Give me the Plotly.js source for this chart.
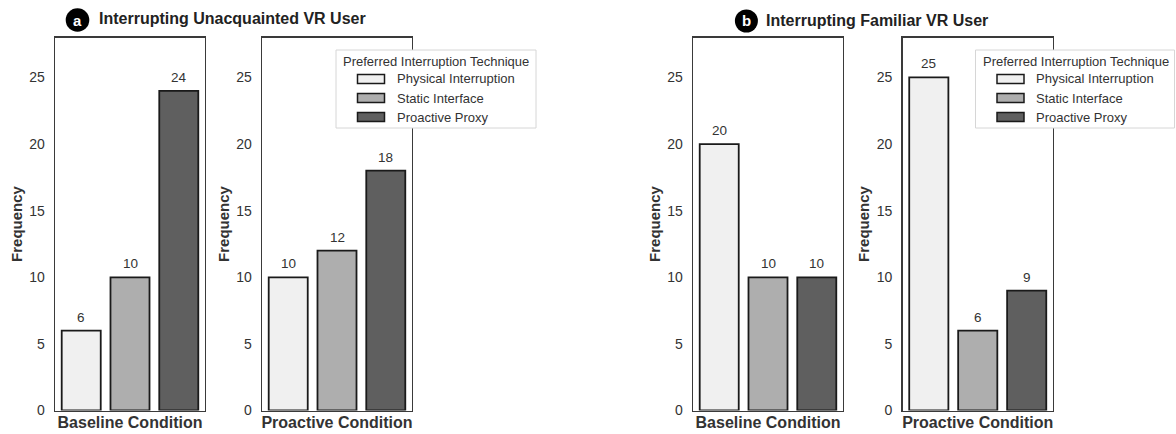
<!DOCTYPE html>
<html>
<head>
<meta charset="utf-8">
<script src="https://cdn.plot.ly/plotly-3.0.1.min.js"></script>
<style>html,body{margin:0;padding:0;background:#fff;}#chart{width:1176px;height:434px;}</style>
</head>
<body>
<div id="chart"></div>
<script>
// ---- data ----
const techniques = ['Physical Interruption', 'Static Interface', 'Proactive Proxy'];
const conditions = ['Baseline Condition', 'Proactive Condition'];
const unacquaintedBaseline = [6, 10, 24];
const unacquaintedProactive = [10, 12, 18];
const familiarBaseline = [20, 10, 10];
const familiarProactive = [25, 6, 9];
const panelLetters = ['a', 'b'];
const panelTitles = ['Interrupting Unacquainted VR User', 'Interrupting Familiar VR User'];
const legendTitle = 'Preferred Interruption Technique';
const yTicks = [0, 5, 10, 15, 20, 25];
const yLabel = 'Frequency';

// ---- styles ----
const FONT = 'Liberation Sans, Arial, Helvetica, sans-serif';
const fills = ['#f0f0f0', '#aeaeae', '#5f5f5f'];
const W = 1176, H = 434;
const px = v => v / W;
const py = v => 1 - v / H;
const BARGAP = 0.2, BARGROUPGAP = 0.2;

const subplots = [
  {vals: unacquaintedBaseline, cond: conditions[0], ax: ''},
  {vals: unacquaintedProactive, cond: conditions[1], ax: '2'},
  {vals: familiarBaseline, cond: conditions[0], ax: '3'},
  {vals: familiarProactive, cond: conditions[1], ax: '4'}
];
const xDomains = [[55, 205], [262, 412], [693, 843], [902.5, 1053]];
const yDomain = [1 - 410.5 / H, 1 - 37.5 / H];

const traces = [];
const valueLabels = [];
subplots.forEach((sp, si) => {
  techniques.forEach((t, ti) => {
    traces.push({
      type: 'bar',
      name: t,
      x: [sp.cond],
      y: [sp.vals[ti]],
      xaxis: 'x' + sp.ax,
      yaxis: 'y' + sp.ax,
      showlegend: false,
      marker: {color: fills[ti], line: {color: '#1a1a1a', width: 1.8}},
      hoverinfo: 'skip'
    });
    // value label above each dodged bar (offset follows the grouped-bar slot width)
    const slot = (1 - BARGAP) / techniques.length;
    valueLabels.push({
      xref: 'x' + sp.ax, yref: 'y' + sp.ax,
      x: (ti - (techniques.length - 1) / 2) * slot,
      y: sp.vals[ti],
      yanchor: 'bottom', yshift: 4,
      text: String(sp.vals[ti]), showarrow: false,
      font: {family: FONT, size: 13.5, color: '#333'}
    });
  });
});

const layout = {
  width: W, height: H,
  margin: {l: 0, r: 0, t: 0, b: 0},
  paper_bgcolor: '#fff', plot_bgcolor: '#fff',
  font: {family: FONT, color: '#333'},
  barmode: 'group', bargap: BARGAP, bargroupgap: BARGROUPGAP,
  showlegend: false,
  shapes: [], annotations: valueLabels.slice()
};

subplots.forEach((sp, si) => {
  const d = xDomains[si];
  layout['xaxis' + sp.ax] = {
    domain: [px(d[0]), px(d[1])],
    anchor: 'y' + sp.ax,
    type: 'category',
    range: [-0.41, 0.41],
    showline: true, mirror: true, linecolor: '#3a3a3a', linewidth: 1.3,
    ticks: '', showgrid: false, zeroline: false,
    tickfont: {family: FONT, size: 16, color: '#333', weight: 'bold'},
    ticklabelstandoff: -3,
    fixedrange: true
  };
  layout['yaxis' + sp.ax] = {
    domain: yDomain,
    anchor: 'x' + sp.ax,
    range: [0, 28],
    tickvals: yTicks,
    showline: true, mirror: true, linecolor: '#3a3a3a', linewidth: 1.3,
    ticks: '', showgrid: false, zeroline: false,
    tickfont: {family: FONT, size: 14, color: '#333'},
    ticklabelstandoff: 6,
    title: {text: yLabel, font: {family: FONT, size: 15, color: '#333', weight: 'bold'}, standoff: 3},
    fixedrange: true
  };
});

// panel headings
const headings = [{cx: 77.5, cy: 20, r: 11.8, tx: 97}, {cx: 746.4, cy: 21, r: 11.5, tx: 763.5}];
headings.forEach((h, i) => {
  layout.shapes.push({
    type: 'circle', xref: 'paper', yref: 'paper',
    x0: px(h.cx - h.r), x1: px(h.cx + h.r), y0: py(h.cy + h.r), y1: py(h.cy - h.r),
    fillcolor: '#000', line: {color: '#000', width: 0}
  });
  layout.annotations.push({
    xref: 'paper', yref: 'paper', x: px(h.cx), y: py(h.cy), xanchor: 'center', yanchor: 'middle',
    text: '<b>' + panelLetters[i] + '</b>', showarrow: false,
    font: {family: FONT, size: 15, color: '#fff'}
  });
  layout.annotations.push({
    xref: 'paper', yref: 'paper', x: px(h.tx), y: py(h.cy - 1), xanchor: 'left', yanchor: 'middle',
    text: '<b>' + panelTitles[i] + '</b>', showarrow: false,
    font: {family: FONT, size: 16, color: '#222'}
  });
});

// legends (one per panel), built from the technique names and fill colours
const legendBoxes = [{x0: 336, x1: 536}, {x0: 975.5, x1: 1174.5}];
const legTop = 50, legBottom = 128, legTitleY = 61, legRowY = [79, 98, 117];
legendBoxes.forEach(b => {
  layout.shapes.push({
    type: 'rect', xref: 'paper', yref: 'paper',
    x0: px(b.x0), x1: px(b.x1), y0: py(legBottom), y1: py(legTop),
    fillcolor: '#fff', line: {color: '#d6d6d6', width: 1}, layer: 'above'
  });
  layout.annotations.push({
    xref: 'paper', yref: 'paper', x: px(b.x0 + 5.5), y: py(legTitleY), xanchor: 'left', yanchor: 'middle',
    text: legendTitle, showarrow: false, font: {family: FONT, size: 13, color: '#333'}
  });
  techniques.forEach((t, ti) => {
    const yc = legRowY[ti];
    layout.shapes.push({
      type: 'rect', xref: 'paper', yref: 'paper',
      x0: px(b.x0 + 21.5), x1: px(b.x0 + 48.5), y0: py(yc + 4.5), y1: py(yc - 4.5),
      fillcolor: fills[ti], line: {color: '#1a1a1a', width: 1.5}, layer: 'above'
    });
    layout.annotations.push({
      xref: 'paper', yref: 'paper', x: px(b.x0 + 58.5), y: py(yc), xanchor: 'left', yanchor: 'middle',
      text: t, showarrow: false, font: {family: FONT, size: 13, color: '#333'}
    });
  });
});

Plotly.newPlot('chart', traces, layout, {displayModeBar: false, staticPlot: true});
</script>
</body>
</html>
